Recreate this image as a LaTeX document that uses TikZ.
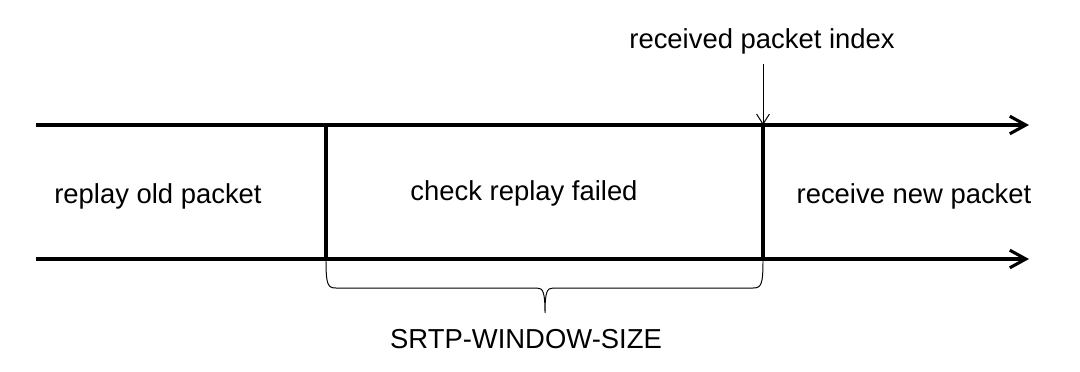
\documentclass[tikz,border=0pt]{standalone}
\usepackage{fontspec}
\setmainfont{Liberation Sans}
\usetikzlibrary{arrows.meta,positioning}
\tikzset{
  track/.style={
    line width = 2.2pt,
    -{Straight Barb[length=4mm,width=4.4mm]}
  },
  wall/.style={
    line width = 2.2pt
  },
  lbl/.style={
    font = \fontsize{19.5}{23}\selectfont,
    inner sep = 0pt
  },
  pointer/.style={
    line width = 0.7pt,
    -{Straight Barb[length=2.5mm,width=3.2mm]}
  },
  bracket/.style={
    line width = 0.7pt
  }
}
\begin{document}
\begin{tikzpicture}[x=0.025cm, y=-0.025cm]
    \useasboundingbox (0,0) rectangle (1080,371);
    % the two time lines
    \coordinate (topL) at (36,125);
    \coordinate (topR) at (1029,125);
    \coordinate (botL) at (36,259);
    \coordinate (botR) at (1029,259);
    \draw[track] (topL) -- (topR);
    \draw[track] (botL) -- (botR);
    % window borders
    \coordinate (winTL) at (326,125);
    \coordinate (winBL) at (326,259);
    \coordinate (winTR) at (763,125);
    \coordinate (winBR) at (763,259);
    \draw[wall] (winTL) -- (winBL);
    \draw[wall, line width=2.9pt] (winTR) -- (winBR);
    % texts
    \node[lbl] (old) at (158,196) {replay old packet};
    \node[lbl] (fail) at (524,193) {check replay failed};
    \node[lbl] (new) at (914,196) {receive new packet};
    \node[lbl] (index) at (762,41) {received packet index};
    \node[lbl] (size) at (526,339) {SRTP-WINDOW-SIZE};
    % pointer to the index
    \coordinate (idxTop) at (763,64);
    \draw[pointer] (idxTop) -- (winTR);
    % brace under the window
    \coordinate (brL) at (326,261);
    \coordinate (brR) at (763,261);
    \coordinate (brTip) at (545,313);
    \draw[bracket] (brL) .. controls (326,285) and (328,288) .. (336,288)
        -- (537,288) .. controls (543,288) and (545,292) .. (brTip)
        .. controls (545,292) and (547,288) .. (553,288)
        -- (753,288) .. controls (761,288) and (763,285) .. (brR);
\end{tikzpicture}
\end{document}
